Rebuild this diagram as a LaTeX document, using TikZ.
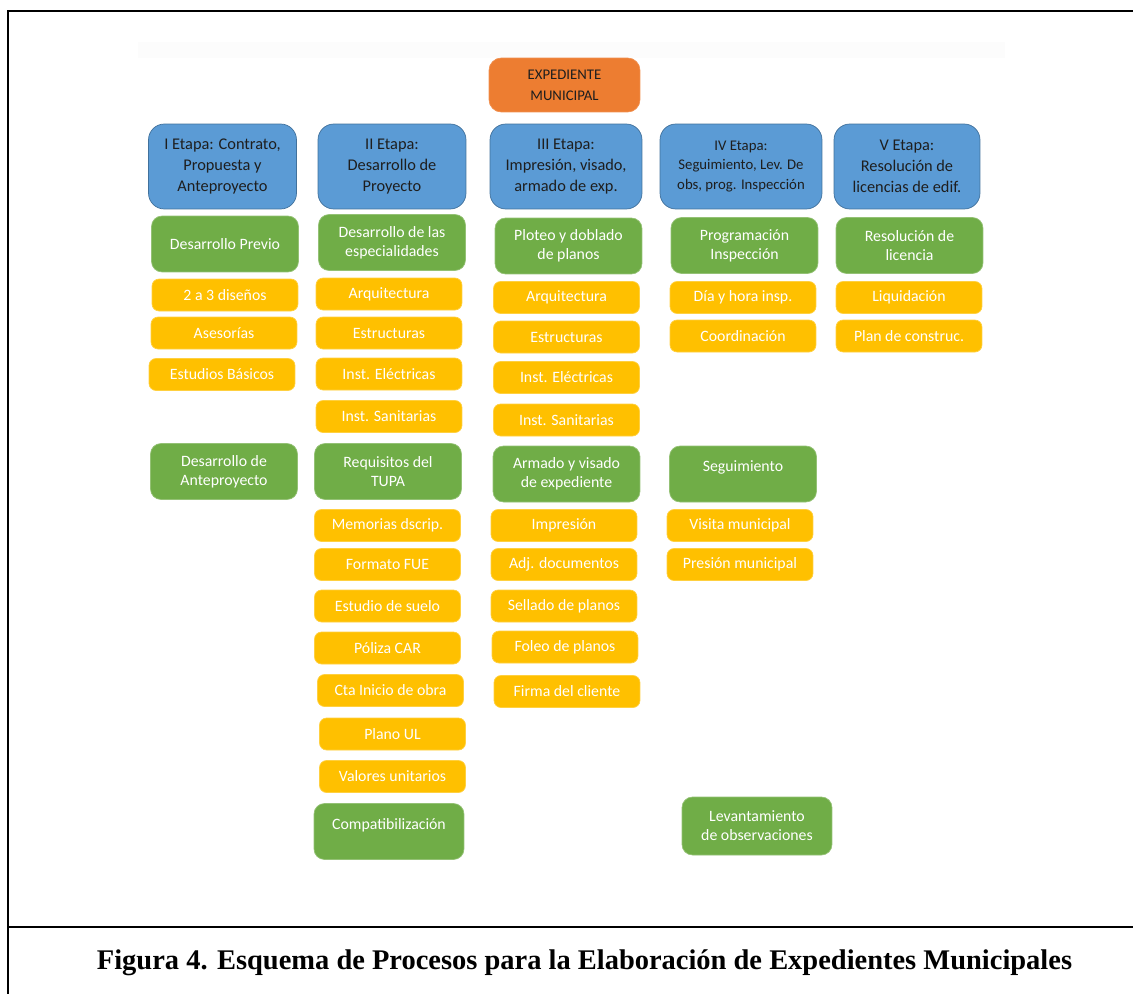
\documentclass[tikz,border=0pt]{standalone}
\usepackage{fontspec}
\setmainfont{Carlito}
\newfontfamily\captionfont{Liberation Serif}
\usepackage{xcolor}
\usepackage{tikz}
\definecolor{stageBlue}{HTML}{5B9BD5}
\definecolor{stageBorder}{HTML}{41719C}
\definecolor{mainOrange}{HTML}{ED7D31}
\definecolor{taskGreen}{HTML}{70AD47}
\definecolor{itemYellow}{HTML}{FFC000}
\definecolor{textDark}{HTML}{1E1E1E}

\begin{document}
\begin{tikzpicture} [
    x=0.02cm, y=-0.02cm,
    mainBox/.style={rectangle, rounded corners=7pt, fill=mainOrange, draw=mainOrange!85!white, thin, minimum width=3.02cm, minimum height=1.08cm, inner sep=0pt, align=center, text=textDark, font=\fontsize{8.4}{12}\selectfont},
    stageBox/.style={rectangle, rounded corners=9pt, fill=stageBlue, draw=stageBorder, thin, minimum width=2.96cm, minimum height=1.7cm, inner sep=0pt, align=center, text=textDark, font=\fontsize{9.3}{11.8}\selectfont},
    taskBox/.style={rectangle, rounded corners=6pt, fill=taskGreen, draw=taskGreen!75!white, thin, minimum width=2.94cm, minimum height=1.12cm, inner sep=0pt, align=center, text=white, font=\fontsize{9}{10.8}\selectfont},
    itemBox/.style={rectangle, rounded corners=4pt, fill=itemYellow, draw=itemYellow!75!white, thin, minimum width=2.92cm, minimum height=0.64cm, inner sep=0pt, align=center, text=white, font=\fontsize{9}{10.8}\selectfont},
    frameLine/.style={line width=1.2pt, black}
]
    \useasboundingbox (0, 0) rectangle (1133, 994);
    \fill[black!1] (138, 42) rectangle (1005, 58);

    % expediente
    \node[mainBox] (expediente) at (564.5, 85) {EXPEDIENTE\\MUNICIPAL};

    % etapas
    \node[stageBox] (etapaI) at (222.5, 166.5) {I Etapa: Contrato,\\Propuesta y\\Anteproyecto};
    \node[stageBox] (etapaII) at (392, 166.5) {II Etapa:\\Desarrollo de\\Proyecto};
    \node[stageBox, minimum width=3.04cm] (etapaIII) at (566, 166.5) {III Etapa:\\Impresión, visado,\\armado de exp.};
    \node[stageBox, minimum width=3.24cm, font=\fontsize{8.4}{11}\selectfont] (etapaIV) at (741, 166.5) {IV Etapa:\\Seguimiento, Lev. De\\obs, prog. Inspección};
    \node[stageBox, minimum width=2.92cm] (etapaV) at (907, 166.5) {V Etapa:\\Resolución de\\licencias de edif.};

    % I
    \node[taskBox] (previo) at (225, 244) {Desarrollo Previo};
    \node[itemBox] (disenos) at (225, 295) {2 a 3 diseños};
    \node[itemBox] (asesorias) at (224, 333) {Asesorías};
    \node[itemBox] (basicos) at (222, 374.5) {Estudios Básicos};
    \node[taskBox] (anteproyecto) at (224, 471.5) {Desarrollo de\\Anteproyecto};

    % II
    \node[taskBox] (especialidades) at (392, 242.5) {Desarrollo de las\\especialidades};
    \node[itemBox] (arqII) at (389, 294) {Arquitectura};
    \node[itemBox] (estrII) at (389, 333) {Estructuras};
    \node[itemBox] (elecII) at (389, 374) {Inst. Eléctricas};
    \node[itemBox] (saniII) at (389, 416.5) {Inst. Sanitarias};
    \node[taskBox] (tupa) at (388, 471.5) {Requisitos del\\TUPA};
    \node[itemBox] (memorias) at (387.5, 525.5) {Memorias dscrip.};
    \node[itemBox] (fue) at (387.5, 564.5) {Formato FUE};
    \node[itemBox] (suelo) at (387.5, 606) {Estudio de suelo};
    \node[itemBox] (poliza) at (387.5, 648) {Póliza CAR};
    \node[itemBox] (inicio) at (390.5, 690.5) {Cta Inicio de obra};
    \node[itemBox] (planoUL) at (392.5, 734) {Plano UL};
    \node[itemBox] (valores) at (392.5, 776.5) {Valores unitarios};
    \node[taskBox, minimum width=3cm, text depth=9pt] (compatib) at (389, 831.5) {Compatibilización};

    % III
    \node[taskBox] (ploteo) at (568.5, 246) {Ploteo y doblado\\de planos};
    \node[itemBox] (arqIII) at (566.5, 297.5) {Arquitectura};
    \node[itemBox] (estrIII) at (566.5, 337) {Estructuras};
    \node[itemBox] (elecIII) at (566.5, 377.5) {Inst. Eléctricas};
    \node[itemBox] (saniIII) at (566.5, 420) {Inst. Sanitarias};
    \node[taskBox] (armado) at (566.5, 474) {Armado y visado\\de expediente};
    \node[itemBox] (impresion) at (564, 525.5) {Impresión};
    \node[itemBox] (adjuntos) at (564, 564.5) {Adj. documentos};
    \node[itemBox] (sellado) at (564, 606) {Sellado de planos};
    \node[itemBox] (foleo) at (565, 647) {Foleo de planos};
    \node[itemBox] (firma) at (567, 691.5) {Firma del cliente};

    % IV
    \node[taskBox] (programacion) at (744.5, 245.5) {Programación\\Inspección};
    \node[itemBox] (dia) at (743, 297.5) {Día y hora insp.};
    \node[itemBox] (coordinacion) at (743, 336) {Coordinación};
    \node[taskBox, text depth=9pt] (seguimiento) at (743, 474) {Seguimiento};
    \node[itemBox] (visita) at (740, 525.5) {Visita municipal};
    \node[itemBox] (presion) at (740, 564.5) {Presión municipal};
    \node[taskBox, minimum width=3cm, minimum height=1.16cm] (levantamiento) at (757, 826) {Levantamiento\\de observaciones};

    % V
    \node[taskBox] (resolucion) at (909.5, 245.5) {Resolución de\\licencia};
    \node[itemBox] (liquidacion) at (909, 297.5) {Liquidación};
    \node[itemBox] (planConstruc) at (909, 336) {Plan de construc.};

    % marco y titulo
    \draw[frameLine] (1133, 11) -- (8, 11) -- (8, 994);
    \draw[frameLine] (8, 927) -- (1133, 927);
    \node[font=\captionfont\bfseries\fontsize{16.2}{19}\selectfont] (titulo) at (584.5, 963) {Figura 4. Esquema de Procesos para la Elaboración de Expedientes Municipales};
\end{tikzpicture}
\end{document}
